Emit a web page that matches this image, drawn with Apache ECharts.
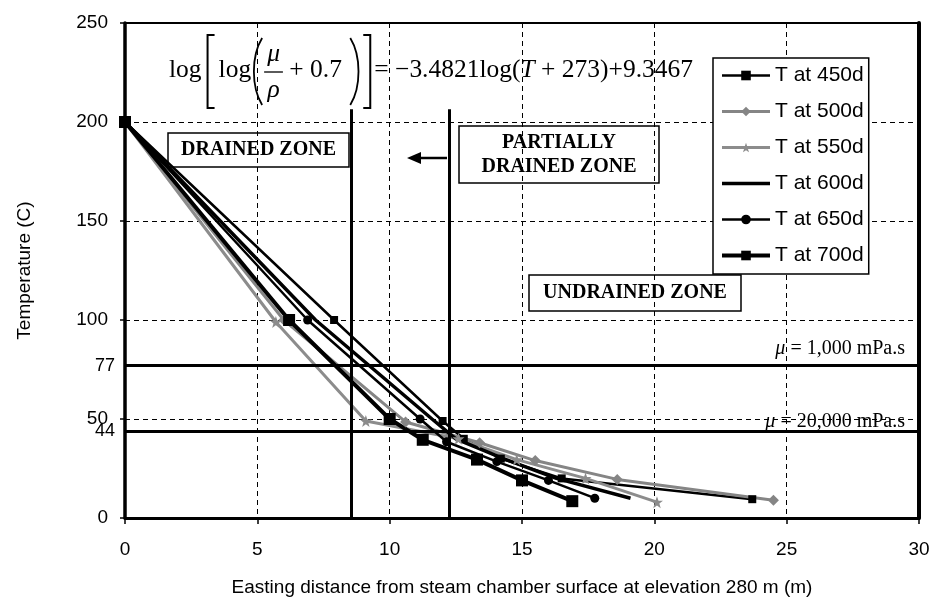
<!DOCTYPE html>
<html>
<head>
<meta charset="utf-8">
<script src="https://cdn.jsdelivr.net/npm/echarts@6/dist/echarts.min.js"></script>
<style>
  html, body { margin: 0; padding: 0; background: #fff; }
  #chart { width: 935px; height: 603px; }
</style>
</head>
<body>
<div id="chart"></div>
<script>
// Temperature profiles ahead of the steam chamber at different times
const seriesNames = ['T at 450d', 'T at 500d', 'T at 550d', 'T at 600d', 'T at 650d', 'T at 700d'];

const distance450 = [0, 7.9, 12.0, 12.8, 14.2, 16.5, 23.7];
const temp450     = [200, 100, 49, 40, 30, 20, 9.5];

const distance500 = [0, 6.0, 10.6, 13.4, 15.5, 18.6, 24.5];
const temp500     = [200, 100, 48.5, 38, 29, 19.5, 9];

const distance550 = [0, 5.7, 9.1, 12.6, 14.8, 17.4, 20.1];
const temp550     = [200, 99, 49, 40, 29.5, 20, 8];

const distance600 = [0, 7.2, 11.6, 12.5, 14.3, 16.3, 19.1];
const temp600     = [200, 100, 50, 40, 30, 20, 10];

const distance650 = [0, 6.9, 11.15, 12.15, 14.05, 16.0, 17.75];
const temp650     = [200, 100, 50, 38.5, 28.5, 19, 10];

const distance700 = [0, 6.2, 10.0, 11.25, 13.3, 15.0, 16.9];
const temp700     = [200, 100, 50, 39.5, 29.5, 19, 8.5];

// Viscosity cut-off temperatures and zone boundaries
const viscosityTemps  = [77, 44];
const viscosityLabels = ['1,000 mPa.s', '20,000 mPa.s'];
const zoneBoundaries  = [8.55, 12.25];
const boundaryTop     = 206.5;

const SANS  = '"Liberation Sans", Arial, sans-serif';
const SERIF = '"Liberation Serif", "Times New Roman", serif';

function pairs(xs, ys) { return xs.map((x, i) => [x, ys[i]]); }

const starPath = 'path://M0,-10L2.4,-3.1L9.5,-3.1L3.8,1.2L5.9,8.1L0,4L-5.9,8.1L-3.8,1.2L-9.5,-3.1L-2.4,-3.1Z';

const styles = [
  { color: '#000',    width: 2.5, symbol: 'rect',    size: 8 },
  { color: '#858585', width: 3,   symbol: 'diamond', size: 11 },
  { color: '#8c8c8c', width: 3,   symbol: starPath,  size: 12 },
  { color: '#000',    width: 3.5, symbol: 'none',    size: 0 },
  { color: '#000',    width: 2.5, symbol: 'circle',  size: 9 },
  { color: '#000',    width: 4,   symbol: 'rect',    size: 12 }
];
const seriesData = [
  pairs(distance450, temp450),
  pairs(distance500, temp500),
  pairs(distance550, temp550),
  pairs(distance600, temp600),
  pairs(distance650, temp650),
  pairs(distance700, temp700)
];

const lineSeries = seriesNames.map((name, i) => ({
  name: name,
  type: 'line',
  data: seriesData[i],
  symbol: styles[i].symbol,
  symbolSize: styles[i].size,
  showSymbol: styles[i].symbol !== 'none',
  lineStyle: { color: styles[i].color, width: styles[i].width },
  itemStyle: { color: styles[i].color, borderWidth: 0 },
  z: 4,
  silent: true,
  animation: false
}));

// Legend entries; the plain-line series gets an invisible marker
const legendItems = seriesNames.map((name, i) => {
  const item = { name: name, lineStyle: { color: styles[i].color, width: styles[i].width } };
  if (styles[i].symbol === 'none') {
    item.itemStyle = { color: 'rgba(0,0,0,0)', borderWidth: 0, opacity: 0 };
  }
  return item;
});

// Reference lines: viscosity isotherms and zone boundaries
const markData = [];
viscosityTemps.forEach(v => {
  markData.push({
    yAxis: v,
    label: {
      show: true, position: 'start', distance: 10, formatter: String(v),
      color: '#000', fontFamily: SANS, fontSize: 18
    }
  });
});
zoneBoundaries.forEach(x => {
  markData.push([{ coord: [x, 0] }, { coord: [x, boundaryTop] }]);
});

const refSeries = {
  name: 'reference',
  type: 'line',
  data: [],
  z: 2,
  silent: true,
  animation: false,
  markLine: {
    silent: true,
    animation: false,
    symbol: ['none', 'none'],
    lineStyle: { color: '#000', width: 3, type: 'solid' },
    label: { show: false },
    emphasis: { disabled: true },
    data: markData
  }
};

// ---- Equation drawn as graphic pieces ----
function buildEquation(left, right, cy) {
  const ctx = document.createElement('canvas').getContext('2d');
  function measure(t, italic, size) {
    ctx.font = (italic ? 'italic ' : '') + size + 'px ' + SERIF;
    return ctx.measureText(t).width;
  }
  const pieces = [
    { t: 'log' }, { gap: 5 }, { br: '[' }, { gap: 4 }, { t: 'log' }, { gap: 1 },
    { par: '(' }, { frac: ['μ', 'ρ'] }, { t: ' + 0.7 ' }, { par: ')' }, { gap: 3 },
    { br: ']' }, { gap: 3 }, { t: '= −3.4821log(' }, { t: 'T', it: true },
    { t: ' + 273)+9.3467' }
  ];
  const BRW = 8, PARW = 12;
  const base = 26;
  let textW = 0, fixedW = 0;
  pieces.forEach(p => {
    if (p.t) textW += measure(p.t, p.it, base);
    else if (p.gap) fixedW += p.gap;
    else if (p.br) fixedW += BRW;
    else if (p.par) fixedW += PARW;
    else if (p.frac) textW += Math.max(measure(p.frac[0], true, base), measure(p.frac[1], true, base)) + 6;
  });
  const size = base * (right - left - fixedW) / textW;
  const els = [];
  let x = left;
  const top = cy - 35, bottom = cy + 38;
  pieces.forEach(p => {
    if (p.t) {
      els.push({ type: 'text', x: x, y: cy, style: {
        text: p.t, fill: '#000', font: (p.it ? 'italic ' : '') + size + 'px ' + SERIF,
        align: 'left', verticalAlign: 'middle' } });
      x += measure(p.t, p.it, size);
    } else if (p.gap) {
      x += p.gap;
    } else if (p.br) {
      const pts = p.br === '['
        ? [[x + BRW, top], [x + 1, top], [x + 1, bottom], [x + BRW, bottom]]
        : [[x, top], [x + BRW - 1, top], [x + BRW - 1, bottom], [x, bottom]];
      els.push({ type: 'polyline', shape: { points: pts }, style: { stroke: '#000', lineWidth: 2, fill: null } });
      x += BRW;
    } else if (p.par) {
      const t = cy - 32, b = cy + 35;
      const shape = p.par === '('
        ? { x1: x + PARW - 2, y1: t, x2: x + PARW - 2, y2: b, cpx1: x - 1, cpy1: t + 18, cpx2: x - 1, cpy2: b - 18 }
        : { x1: x + 2, y1: t, x2: x + 2, y2: b, cpx1: x + PARW + 1, cpy1: t + 18, cpx2: x + PARW + 1, cpy2: b - 18 };
      els.push({ type: 'bezierCurve', shape: shape, style: { stroke: '#000', lineWidth: 1.8, fill: null } });
      x += PARW;
    } else if (p.frac) {
      const fw = Math.max(measure(p.frac[0], true, size), measure(p.frac[1], true, size)) + 6;
      const cx = x + fw / 2;
      els.push({ type: 'text', x: cx, y: cy - 16, style: { text: p.frac[0], fill: '#000',
        font: 'italic ' + size + 'px ' + SERIF, align: 'center', verticalAlign: 'middle' } });
      els.push({ type: 'text', x: cx, y: cy + 20, style: { text: p.frac[1], fill: '#000',
        font: 'italic ' + size + 'px ' + SERIF, align: 'center', verticalAlign: 'middle' } });
      els.push({ type: 'line', shape: { x1: x, y1: cy + 2, x2: x + fw, y2: cy + 2 }, style: { stroke: '#000', lineWidth: 1.3 } });
      x += fw;
    }
  });
  return els;
}

function boxLabel(x, y, w, h, lines) {
  const els = [{ type: 'rect', shape: { x: x, y: y, width: w, height: h },
    style: { stroke: '#000', lineWidth: 1.5, fill: null }, z: 10 }];
  const step = 24;
  const startY = y + h / 2 - (lines.length - 1) * step / 2;
  lines.forEach((t, i) => {
    els.push({ type: 'text', x: x + w / 2, y: startY + i * step, z: 10,
      style: { text: t, fill: '#000', font: 'bold 20px ' + SERIF, align: 'center', verticalAlign: 'middle' } });
  });
  return els;
}

function viscosityLabel(rightX, cy, value) {
  return { type: 'text', x: rightX, y: cy, z: 10, style: {
    text: '{i|μ} = ' + value, fill: '#000', font: '20px ' + SERIF,
    align: 'right', verticalAlign: 'middle',
    rich: { i: { fontStyle: 'italic', fontFamily: SERIF, fontSize: 20, fill: '#000' } } } };
}

const graphics = []
  .concat(buildEquation(169, 693, 70))
  .concat(boxLabel(168, 133, 181, 34, ['DRAINED ZONE']))
  .concat(boxLabel(459, 126, 200, 57, ['PARTIALLY', 'DRAINED ZONE']))
  .concat(boxLabel(529, 275, 212, 36, ['UNDRAINED ZONE']))
  .concat([
    { type: 'line', shape: { x1: 447, y1: 158, x2: 418, y2: 158 }, style: { stroke: '#000', lineWidth: 2.5 }, z: 10 },
    { type: 'polygon', shape: { points: [[407, 158], [421, 152], [421, 164]] }, style: { fill: '#000' }, z: 10 },
    viscosityLabel(905, 349, viscosityLabels[0]),
    viscosityLabel(905, 422, viscosityLabels[1])
  ]);

const chart = echarts.init(document.getElementById('chart'), null, { renderer: 'canvas' });
chart.setOption({
  animation: false,
  backgroundColor: '#fff',
  grid: {
    left: 125, right: 16, top: 23, bottom: 85,
    show: true, borderColor: '#000', borderWidth: 2,
    containLabel: false, outerBoundsMode: 'none'
  },
  legend: {
    data: legendItems,
    orient: 'vertical',
    left: 713, top: 58,
    itemWidth: 48, itemHeight: 12, itemGap: 15,
    padding: [7, 5, 8, 7],
    backgroundColor: '#fff', borderColor: '#000', borderWidth: 1.5, borderRadius: 0,
    selectedMode: false,
    textStyle: { fontFamily: SANS, fontSize: 21, color: '#000', lineHeight: 20 },
    z: 12
  },
  xAxis: {
    type: 'value', min: 0, max: 30, interval: 5,
    name: 'Easting distance from steam chamber surface at elevation 280 m (m)',
    nameLocation: 'middle', nameGap: 60,
    nameTextStyle: { fontFamily: SANS, fontSize: 19, color: '#000' },
    axisLine: { show: true, onZero: false, lineStyle: { color: '#000', width: 3 } },
    axisTick: { show: true, inside: false, length: 6, lineStyle: { color: '#000', width: 1.5 } },
    axisLabel: { margin: 22, fontFamily: SANS, fontSize: 19, color: '#000' },
    splitLine: { show: true, lineStyle: { color: '#000', width: 1, type: [5, 4] } }
  },
  yAxis: [{
    type: 'value', min: 0, max: 250, interval: 50,
    name: 'Temperature (C)',
    nameLocation: 'middle', nameGap: 91,
    nameTextStyle: { fontFamily: SANS, fontSize: 19, color: '#000' },
    axisLine: { show: true, onZero: false, lineStyle: { color: '#000', width: 3.5 } },
    axisTick: { show: true, inside: false, length: 5, lineStyle: { color: '#000', width: 1.5 } },
    axisLabel: { margin: 17, fontFamily: SANS, fontSize: 19, color: '#000' },
    splitLine: { show: true, lineStyle: { color: '#000', width: 1, type: [5, 4] } }
  }, {
    type: 'value', min: 0, max: 250, interval: 50, position: 'right',
    axisLine: { show: true, onZero: false, lineStyle: { color: '#000', width: 4 } },
    axisTick: { show: false }, axisLabel: { show: false }, splitLine: { show: false }
  }],
  series: [refSeries].concat(lineSeries),
  graphic: { elements: graphics }
});
</script>
</body>
</html>
